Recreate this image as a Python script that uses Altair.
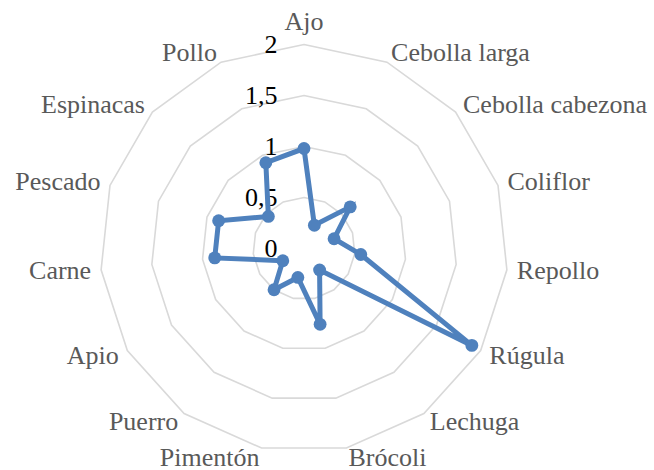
import altair as alt
import pandas as pd

# Radar chart: one series over 15 ingredients, radial axis 0..2
categories = ["Ajo", "Cebolla larga", "Cebolla cabezona", "Coliflor", "Repollo",
              "Rúgula", "Lechuga", "Brócoli", "Pimentón", "Puerro", "Apio",
              "Carne", "Pescado", "Espinacas", "Pollo"]
values = [0.98, 0.25, 0.61, 0.31, 0.56, 1.90, 0.26, 0.76, 0.29, 0.50, 0.24,
          0.88, 0.88, 0.47, 0.92]
ring_levels = [0.5, 1.0, 1.5, 2.0]
tick_values = [0, 0.5, 1, 1.5, 2]
tick_labels = ["0", "0,5", "1", "1,5", "2"]

N = len(categories)
W, H = 654, 470
CX, CY = 304, 248.5          # centre of the radar in pixels
PX_PER_UNIT = 102            # pixels per radial unit
LABEL_R = 2 + 10 / PX_PER_UNIT

FONT = "'Liberation Serif', 'Times New Roman', 'DejaVu Serif', serif"
BLUE = "#4f81bd"

series = pd.DataFrame({"category": categories, "value": values, "i": list(range(N))})
rings = pd.DataFrame([{"level": lv, "i": i} for lv in ring_levels for i in range(N)])
ticks = pd.DataFrame({"level": tick_values, "label": tick_labels})
cats = pd.DataFrame({"category": categories, "i": list(range(N))})

x_scale = alt.Scale(domain=[-CX / PX_PER_UNIT, (W - CX) / PX_PER_UNIT], nice=False, zero=False)
y_scale = alt.Scale(domain=[-(H - CY) / PX_PER_UNIT, CY / PX_PER_UNIT], nice=False, zero=False)
X = alt.X("px:Q", scale=x_scale, axis=None)
Y = alt.Y("py:Q", scale=y_scale, axis=None)


def polar(chart, r_expr):
    """Convert (i, radius) to cartesian coordinates, clockwise from the top."""
    return chart.transform_calculate(
        ang=f"datum.i * 2 * PI / {N}"
    ).transform_calculate(
        px=f"({r_expr}) * sin(datum.ang)",
        py=f"({r_expr}) * cos(datum.ang)",
    )


ring_layer = polar(alt.Chart(rings), "datum.level").mark_line(
    color="#d9d9d9", strokeWidth=1.6, interpolate="linear-closed"
).encode(x=X, y=Y, detail="level:N", order="i:Q")

tick_layer = alt.Chart(ticks).transform_calculate(px="0", py="datum.level").mark_text(
    font=FONT, fontSize=26, color="#000000", align="right", baseline="middle", dx=-26.5
).encode(x=X, y=Y, text="label:N")

line_layer = polar(alt.Chart(series), "datum.value").mark_line(
    color=BLUE, strokeWidth=5, interpolate="linear-closed"
).encode(x=X, y=Y, order="i:Q")

point_layer = polar(alt.Chart(series), "datum.value").mark_circle(
    color=BLUE, size=165, opacity=1
).encode(x=X, y=Y)

label_base = polar(alt.Chart(cats), str(LABEL_R))
label_style = dict(font=FONT, fontSize=26, color="#595959")

labels_right = label_base.transform_filter("sin(datum.ang) > 0.01").mark_text(
    align="left", baseline="middle", **label_style
).encode(x=X, y=Y, text="category:N")

labels_left = label_base.transform_filter("sin(datum.ang) < -0.01").mark_text(
    align="right", baseline="middle", **label_style
).encode(x=X, y=Y, text="category:N")

labels_top = label_base.transform_filter("abs(sin(datum.ang)) <= 0.01").mark_text(
    align="center", baseline="bottom", **label_style
).encode(x=X, y=Y, text="category:N")

chart = alt.layer(
    ring_layer, tick_layer, line_layer, point_layer,
    labels_right, labels_left, labels_top
).properties(
    width=W, height=H, padding=0, autosize="none", background="white"
).configure_view(stroke=None)

chart.save("out.html", embed_options={"renderer": "svg", "actions": False})
